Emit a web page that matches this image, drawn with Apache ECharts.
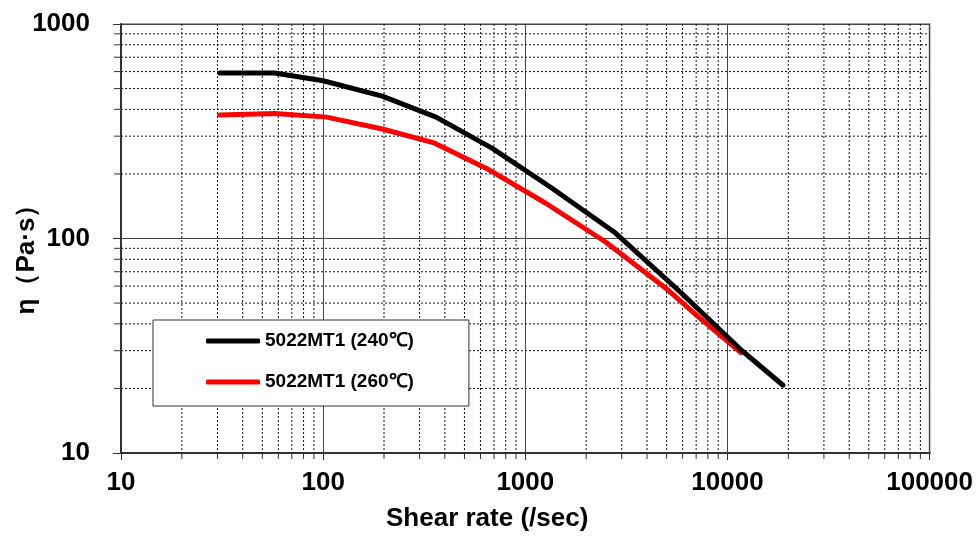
<!DOCTYPE html>
<html>
<head>
<meta charset="utf-8">
<script src="https://cdn.jsdelivr.net/npm/echarts@6/dist/echarts.min.js"></script>
<style>
  html, body { margin: 0; padding: 0; background: #fff; }
  #main { width: 976px; height: 538px; }
</style>
</head>
<body>
<div id="main"></div>
<script>
var myChart = echarts.init(document.getElementById('main'));

// shear rate (/sec) and viscosity (Pa·s)
const rate240 = [30.8, 57.5, 100, 196, 362, 684, 1351, 2795, 5914, 11690, 18830];
const eta240  = [591, 591, 544, 461, 368, 264, 172, 106, 55.7, 30.2, 20.7];

const rate260 = [30.8, 57.5, 104, 196, 354, 661, 1262, 2494, 4932, 7178, 11640];
const eta260  = [376, 383, 368, 324, 279, 209, 146, 96.3, 58.8, 43.1, 29.4];

const seriesNames = ['5022MT1 (240\u2103)', '5022MT1 (260\u2103)'];

// minor grid lines of the log axes
const xMinor = [20, 30, 40, 50, 60, 70, 80, 90,
                200, 300, 400, 500, 600, 700, 800, 900,
                2000, 3000, 4000, 5000, 6000, 7000, 8000, 9000,
                20000, 30000, 40000, 50000, 60000, 70000, 80000, 90000];
const yMinor = [20, 30, 40, 50, 60, 70, 80, 90,
                200, 300, 400, 500, 600, 700, 800, 900];

const FONT = '"Liberation Sans", Arial, sans-serif';

function pairs(xs, ys) {
  return xs.map(function (x, i) { return [x, ys[i]]; });
}

const option = {
  animation: false,
  textStyle: { fontFamily: FONT },
  grid: {
    left: 121, right: 44, top: 24, bottom: 85,
    show: true,
    borderColor: '#a0a0a0',
    borderWidth: 2,
    backgroundColor: '#fff'
  },
  legend: {
    data: seriesNames,
    orient: 'vertical',
    left: 153, top: 320,
    padding: [11, 55, 14, 53],
    itemGap: 21,
    itemWidth: 54, itemHeight: 5,
    icon: 'roundRect',
    backgroundColor: '#fff',
    borderColor: '#333',
    borderWidth: 1,
    borderRadius: 0,
    textStyle: { fontSize: 19, fontWeight: 'bold', color: '#000', lineHeight: 20 }
  },
  title: {
    text: 'Shear rate (/sec)',
    left: 386, top: 506,
    padding: 0,
    textStyle: { fontSize: 26, fontWeight: 'bold', color: '#000', fontFamily: FONT }
  },
  graphic: [{
    type: 'text',
    x: 27, y: 253,
    rotation: Math.PI / 2,
    style: {
      text: '\u03b7\uff08Pa\u00b7s\uff09',
      font: 'bold 26px ' + FONT,
      fill: '#000',
      align: 'center',
      verticalAlign: 'middle'
    }
  }],
  xAxis: {
    type: 'log',
    logBase: 10,
    min: 10, max: 100000,
    axisLine: { lineStyle: { color: '#333', width: 2 } },
    axisTick: { show: true, inside: false, length: 7, lineStyle: { color: '#333' } },
    axisLabel: {
      margin: 17,
      fontSize: 26, fontWeight: 'bold', color: '#000',
      formatter: function (v) { return String(Math.round(v)); }
    },
    splitLine: { show: true, lineStyle: { color: '#444', width: 1 } }
  },
  yAxis: {
    type: 'log',
    logBase: 10,
    min: 10, max: 1000,
    axisLine: { lineStyle: { color: '#333', width: 2 } },
    axisTick: { show: true, inside: false, length: 8, lineStyle: { color: '#333' } },
    axisLabel: {
      margin: 31,
      fontSize: 26, fontWeight: 'bold', color: '#000',
      formatter: function (v) { return String(Math.round(v)); }
    },
    splitLine: { show: true, lineStyle: { color: '#444', width: 1 } }
  },
  series: [
    {
      // vertical minor grid + ticks
      type: 'custom',
      silent: true,
      clip: false,
      z: 1,
      encode: { x: 0, y: 1 },
      data: xMinor.map(function (v) { return [v, 10]; }),
      renderItem: function (params, api) {
        var b = api.coord([api.value(0), 10]);
        var t = api.coord([api.value(0), 1000]);
        return {
          type: 'group',
          children: [
            { type: 'line', shape: { x1: b[0], y1: t[1], x2: b[0], y2: b[1] },
              style: { stroke: '#111', lineWidth: 1, lineDash: [2, 2] } },
            { type: 'line', shape: { x1: b[0], y1: b[1], x2: b[0], y2: b[1] + 6 },
              style: { stroke: '#333', lineWidth: 1 } }
          ]
        };
      }
    },
    {
      // horizontal minor grid + ticks
      type: 'custom',
      silent: true,
      clip: false,
      z: 1,
      encode: { x: 0, y: 1 },
      data: yMinor.map(function (v) { return [10, v]; }),
      renderItem: function (params, api) {
        var l = api.coord([10, api.value(1)]);
        var r = api.coord([100000, api.value(1)]);
        return {
          type: 'group',
          children: [
            { type: 'line', shape: { x1: l[0], y1: l[1], x2: r[0], y2: l[1] },
              style: { stroke: '#111', lineWidth: 1, lineDash: [2, 2] } },
            { type: 'line', shape: { x1: l[0] - 7, y1: l[1], x2: l[0], y2: l[1] },
              style: { stroke: '#333', lineWidth: 1 } }
          ]
        };
      }
    },
    {
      name: seriesNames[0],
      type: 'line',
      data: pairs(rate240, eta240),
      showSymbol: false,
      symbol: 'none',
      z: 5,
      color: '#000',
      lineStyle: { color: '#000', width: 5, cap: 'round', join: 'round' }
    },
    {
      name: seriesNames[1],
      type: 'line',
      data: pairs(rate260, eta260),
      showSymbol: false,
      symbol: 'none',
      z: 4,
      color: '#ff0000',
      lineStyle: { color: '#ff0000', width: 5, cap: 'round', join: 'round' }
    }
  ]
};

myChart.setOption(option);
</script>
</body>
</html>
